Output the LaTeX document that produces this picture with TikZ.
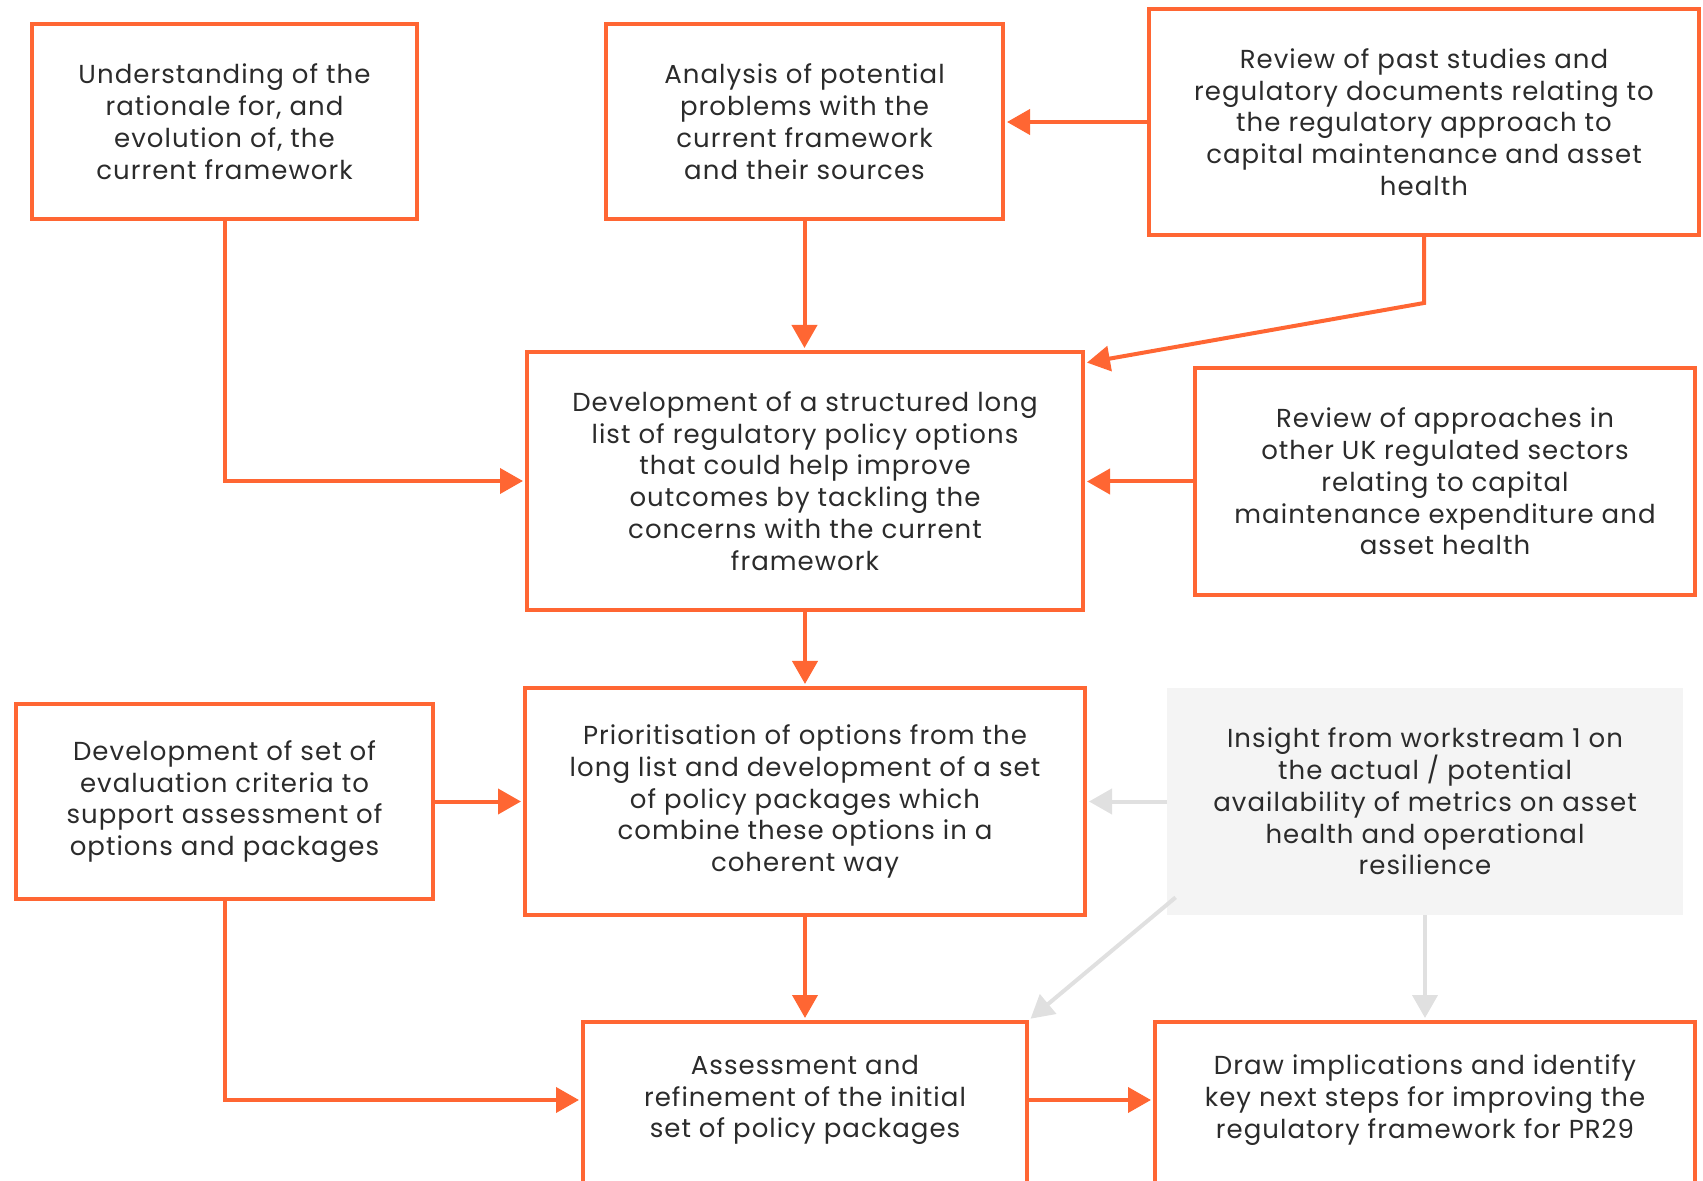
\documentclass[tikz,border=0pt]{standalone}
\usepackage{fontspec}
\setmainfont{Poppins}[LetterSpace=4]
\usetikzlibrary{arrows.meta}
\definecolor{flowor}{HTML}{FF6633}
\definecolor{flowgr}{HTML}{E0E0E0}
\definecolor{flowfill}{HTML}{F4F4F4}
\definecolor{flowtxt}{HTML}{2B2B2B}
\tikzset{
  boxtext/.style={align=center, text=flowtxt,
    font={\fontsize{13}{15.9}\selectfont}},
  obox/.style={boxtext, draw=flowor, line width=2pt, rectangle, inner sep=0pt},
  gbox/.style={boxtext, fill=flowfill, rectangle, inner sep=0pt},
  oarrow/.style={draw=flowor, line width=2pt,
    -{Triangle[length=11.5pt,width=12.5pt]}, shorten >=1pt},
  garrow/.style={draw=flowgr, line width=2pt,
    -{Triangle[length=11.5pt,width=12.5pt]}, shorten >=1pt},
}
\begin{document}
\begin{tikzpicture}[x=0.5pt, y=-0.5pt]
\useasboundingbox (0,0) rectangle (1703,1181);

% top row
\node[obox, minimum width=192.5pt, minimum height=97.5pt] (A) at (224.5,121.5)
  {Understanding of the\\rationale for, and\\evolution of, the\\current framework};
\node[obox, minimum width=198.5pt, minimum height=97.5pt] (B) at (804.5,121.5)
  {Analysis of potential\\problems with the\\current framework\\and their sources};
\node[obox, minimum width=275pt, minimum height=113pt] (C) at (1424,122)
  {Review of past studies and\\regulatory documents relating to\\the regulatory approach to\\capital maintenance and asset\\health};

% second row
\node[obox, minimum width=278pt, minimum height=129pt] (D) at (805,481)
  {Development of a structured long\\list of regulatory policy options\\that could help improve\\outcomes by tackling the\\concerns with the current\\framework};
\node[obox, minimum width=250pt, minimum height=113.5pt] (E) at (1445,481.5)
  {Review of approaches in\\other UK regulated sectors\\relating to capital\\maintenance expenditure and\\asset health};

% third row
\node[obox, minimum width=208.5pt, minimum height=97.5pt] (F) at (224.5,801.5)
  {Development of set of\\evaluation criteria to\\support assessment of\\options and packages};
\node[obox, minimum width=280pt, minimum height=113.5pt] (G) at (805,801.5)
  {Prioritisation of options from the\\long list and development of a set\\of policy packages which\\combine these options in a\\coherent way};
\node[gbox, minimum width=258pt, minimum height=113.5pt] (H) at (1425,801.5)
  {Insight from workstream 1 on\\the actual / potential\\availability of metrics on asset\\health and operational\\resilience};

% bottom row: boxes run past the lower edge
\node[obox, anchor=north, minimum width=222pt, minimum height=200pt] (I) at (805,1020) {};
\node[boxtext] (Itext) at (805,1100)
  {Assessment and\\refinement of the initial\\set of policy packages};
\node[obox, anchor=north, minimum width=270pt, minimum height=200pt] (J) at (1425,1020) {};
\node[boxtext] (Jtext) at (1425,1100)
  {Draw implications and identify\\key next steps for improving the\\regulatory framework for PR29};

% connectors
\draw[oarrow] (A.south) |- (D.west);
\draw[oarrow] (B.south) -- (B.south |- D.north);
\draw[oarrow] (C.west) -- (C.west -| B.east);
\draw[oarrow] (C.south) -- ++(0,66) -- ([yshift=-6.5pt]D.north east);
\draw[oarrow] (E.west) -- (E.west -| D.east);
\draw[oarrow] (D.south) -- (G.north);
\draw[oarrow] (F.east) -- (F.east -| G.west);
\draw[garrow] (H.west) -- (H.west -| G.east);
\draw[oarrow] (F.south) |- (I.west |- Itext);
\draw[oarrow] (G.south) -- (I.north);
\draw[garrow] ([xshift=4.5pt,yshift=9pt]H.south west) -- (I.north east);
\draw[garrow] (H.south) -- (J.north);
\draw[oarrow] (I.east |- Itext) -- (J.west |- Itext);
\end{tikzpicture}
\end{document}
